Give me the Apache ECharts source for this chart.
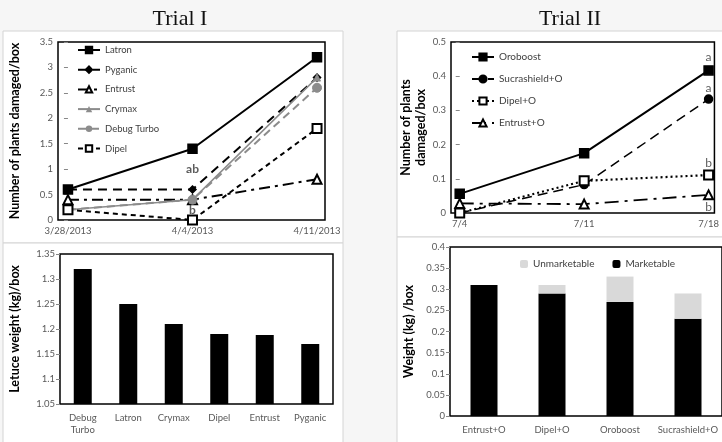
<!DOCTYPE html>
<html>
<head>
<meta charset="utf-8">
<script src="https://cdn.jsdelivr.net/npm/echarts@6/dist/echarts.min.js"></script>
<style>
html,body{margin:0;padding:0;background:#f6f6f6;}
#chart{width:722px;height:442px;}
</style>
</head>
<body>
<div id="chart"></div>
<script>
// ---- Trial I: damage over time ----
const trial1Dates = ['3/28/2013', '4/4/2013', '4/11/2013'];
const latron = [0.6, 1.4, 3.2];
const pyganic = [0.6, 0.6, 2.8];
const entrust = [0.4, 0.4, 0.8];
const crymax = [0.2, 0.4, 2.8];
const debugTurbo = [0.2, 0.4, 2.6];
const dipel = [0.2, 0.0, 1.8];
const trial1Letters = ['ab', 'b'];
const trial1LetterX = [1, 1];
const trial1LetterY = [1.0, 0.2];

// ---- Trial I: lettuce weight ----
const trial1Treatments = ['Debug Turbo', 'Latron', 'Crymax', 'Dipel', 'Entrust', 'Pyganic'];
const lettuceWeight = [1.32, 1.25, 1.21, 1.19, 1.188, 1.17];

// ---- Trial II: damage over time ----
const trial2Dates = ['7/4', '7/11', '7/18'];
const oroboost = [0.056, 0.175, 0.417];
const sucrashield = [0.0, 0.083, 0.333];
const dipelO = [0.0, 0.094, 0.111];
const entrustO = [0.028, 0.026, 0.053];
const trial2Letters = ['a', 'a', 'b', 'b'];
const trial2LetterX = [2, 2, 2, 2];
const trial2LetterY = [0.455, 0.365, 0.146, 0.018];

// ---- Trial II: weight ----
const trial2Treatments = ['Entrust+O', 'Dipel+O', 'Oroboost', 'Sucrashield+O'];
const marketable = [0.31, 0.29, 0.27, 0.23];
const unmarketable = [0.0, 0.02, 0.06, 0.06];

const FONT = 'Lato, "Noto Sans", sans-serif';
const LBL = '#595959';
const pts = arr => arr.map((v, i) => [i, v]);

function lineSeries(name, data, grid, opt) {
  return Object.assign({
    name: name, type: 'line', xAxisIndex: grid, yAxisIndex: grid,
    data: pts(data), symbolSize: 8, z: 3,
    lineStyle: { color: '#000', width: 2, type: 'solid' },
    itemStyle: { color: '#000', borderColor: '#000', borderWidth: 1.5 }
  }, opt);
}

const chart = echarts.init(document.getElementById('chart'), null, { renderer: 'canvas' });

const valueYAxis = (grid, min, max, interval, name, nameGap) => ({
  gridIndex: grid, type: 'value', min: min, max: max, interval: interval,
  name: name, nameLocation: 'middle', nameGap: nameGap, nameRotate: 90,
  nameTextStyle: { fontFamily: FONT, fontWeight: 'bold', fontSize: 12.5, color: '#000', lineHeight: 15 },
  axisLine: { show: false },
  axisTick: { show: true, length: 4, inside: false, lineStyle: { color: '#888' } },
  splitLine: { show: false },
  axisLabel: { fontFamily: FONT, fontSize: 9.5, color: LBL, margin: 5 }
});

const gridStyle = { show: true, borderColor: '#000', borderWidth: 1.5, backgroundColor: '#fff' };

chart.setOption({
  backgroundColor: '#f6f6f6',
  animation: false,
  graphic: [
    { type: 'rect', z: -10, shape: { x: 3, y: 31, width: 340, height: 212 }, style: { fill: '#fff', stroke: '#d4d4d4', lineWidth: 1 } },
    { type: 'rect', z: -10, shape: { x: 3, y: 243, width: 340, height: 210 }, style: { fill: '#fff', stroke: '#d4d4d4', lineWidth: 1 } },
    { type: 'rect', z: -10, shape: { x: 397, y: 31, width: 340, height: 206 }, style: { fill: '#fff', stroke: '#d4d4d4', lineWidth: 1 } },
    { type: 'rect', z: -10, shape: { x: 397, y: 237, width: 340, height: 215 }, style: { fill: '#fff', stroke: '#d4d4d4', lineWidth: 1 } }
  ],
  title: [
    { text: 'Trial I', left: 175, top: 3, textAlign: 'center',
      textStyle: { fontFamily: '"Liberation Serif", serif', fontSize: 22, fontWeight: 'normal', color: '#111' } },
    { text: 'Trial II', left: 565, top: 3, textAlign: 'center',
      textStyle: { fontFamily: '"Liberation Serif", serif', fontSize: 22, fontWeight: 'normal', color: '#111' } }
  ],
  legend: [
    { orient: 'vertical', left: 72, top: 39, itemWidth: 22, itemHeight: 8, itemGap: 7.7,
      data: ['Latron', 'Pyganic', 'Entrust', 'Crymax', 'Debug Turbo', 'Dipel'],
      textStyle: { fontFamily: FONT, fontSize: 9.5, color: '#404040', lineHeight: 12 } },
    { orient: 'vertical', left: 466, top: 46, itemWidth: 22, itemHeight: 9, itemGap: 10,
      data: ['Oroboost', 'Sucrashield+O', 'Dipel+O', 'Entrust+O'],
      textStyle: { fontFamily: FONT, fontSize: 10, color: '#404040', lineHeight: 12 } },
    { orient: 'horizontal', left: 515, top: 254, itemWidth: 8, itemHeight: 8, itemGap: 18,
      data: ['Unmarketable', 'Marketable'],
      textStyle: { fontFamily: FONT, fontSize: 10, color: '#404040' } }
  ],
  grid: [
    Object.assign({ left: 58, top: 42, width: 267, height: 178 }, gridStyle),
    Object.assign({ left: 60, top: 254, width: 273, height: 150 }, gridStyle),
    Object.assign({ left: 451, top: 42, width: 269, height: 171 }, gridStyle),
    Object.assign({ left: 450, top: 247, width: 272, height: 169 }, gridStyle)
  ],
  xAxis: [
    { gridIndex: 0, type: 'value', min: -0.08, max: 2.064,
      axisLine: { show: false }, axisTick: { show: false }, splitLine: { show: false },
      axisLabel: { customValues: [0, 1, 2], formatter: v => trial1Dates[Math.round(v)],
        fontFamily: FONT, fontSize: 9.5, color: LBL, margin: 6 } },
    { gridIndex: 1, type: 'category', data: trial1Treatments,
      axisLine: { show: false }, axisTick: { show: false },
      axisLabel: { interval: 0, formatter: v => v.replace(' ', '\n'), fontFamily: FONT, fontSize: 9.5, color: LBL, margin: 8, lineHeight: 12 } },
    { gridIndex: 2, type: 'value', min: -0.07, max: 2.047,
      axisLine: { show: false }, axisTick: { show: false }, splitLine: { show: false },
      axisLabel: { customValues: [0, 1, 2], formatter: v => trial2Dates[Math.round(v)],
        fontFamily: FONT, fontSize: 9.5, color: LBL, margin: 6 } },
    { gridIndex: 3, type: 'category', data: trial2Treatments,
      axisLine: { show: false }, axisTick: { show: false },
      axisLabel: { interval: 0, fontFamily: FONT, fontSize: 9.5, color: LBL, margin: 9 } }
  ],
  yAxis: [
    valueYAxis(0, 0, 3.5, 0.5, 'Number of plants damaged/box', 36),
    valueYAxis(1, 1.05, 1.35, 0.05, 'Letuce weight (kg)/box', 38),
    valueYAxis(2, 0, 0.5, 0.1, 'Number of plants\ndamaged/box', 21),
    valueYAxis(3, 0, 0.4, 0.05, 'Weight (kg) /box', 34)
  ],
  series: [
    lineSeries('Latron', latron, 0, { symbol: 'rect', symbolSize: 9 }),
    lineSeries('Pyganic', pyganic, 0, { symbol: 'diamond', symbolSize: 7,
      lineStyle: { color: '#000', width: 2, type: [9, 6] } }),
    lineSeries('Entrust', entrust, 0, { symbol: 'emptyTriangle', symbolSize: 9,
      lineStyle: { color: '#000', width: 2, type: [11, 5, 3, 5] } }),
    lineSeries('Crymax', crymax, 0, { symbol: 'triangle', symbolSize: 7,
      lineStyle: { color: '#8c8c8c', width: 1.5, type: 'solid' },
      itemStyle: { color: '#8c8c8c', borderColor: '#8c8c8c' } }),
    lineSeries('Debug Turbo', debugTurbo, 0, { symbol: 'circle', symbolSize: 9,
      lineStyle: { color: '#8c8c8c', width: 2, type: [8, 5] },
      itemStyle: { color: '#8c8c8c', borderColor: '#8c8c8c' } }),
    lineSeries('Dipel', dipel, 0, { symbol: 'emptyRect', symbolSize: 9,
      lineStyle: { color: '#000', width: 2, type: [5, 4] } }),
    { type: 'scatter', xAxisIndex: 0, yAxisIndex: 0, symbolSize: 0, z: 5,
      data: trial1Letters.map((t, i) => [trial1LetterX[i], trial1LetterY[i], t]),
      label: { show: true, position: 'inside', formatter: p => p.data[2],
        fontFamily: FONT, fontSize: 12, fontWeight: 'bold', color: '#333' } },

    { name: 'Lettuce', type: 'bar', xAxisIndex: 1, yAxisIndex: 1, data: lettuceWeight,
      barWidth: 18, itemStyle: { color: '#000' } },

    lineSeries('Oroboost', oroboost, 2, { symbol: 'rect', symbolSize: 9 }),
    lineSeries('Sucrashield+O', sucrashield, 2, { symbol: 'circle', symbolSize: 8,
      lineStyle: { color: '#000', width: 1.5, type: [10, 6] } }),
    lineSeries('Dipel+O', dipelO, 2, { symbol: 'emptyRect', symbolSize: 9,
      lineStyle: { color: '#000', width: 2.2, type: [2, 3] } }),
    lineSeries('Entrust+O', entrustO, 2, { symbol: 'emptyTriangle', symbolSize: 9,
      lineStyle: { color: '#000', width: 1.8, type: [14, 6, 3, 6] } }),
    { type: 'scatter', xAxisIndex: 2, yAxisIndex: 2, symbolSize: 0, z: 5,
      data: trial2Letters.map((t, i) => [trial2LetterX[i], trial2LetterY[i], t]),
      label: { show: true, position: 'inside', formatter: p => p.data[2],
        fontFamily: FONT, fontSize: 12, color: '#333' } },

    { name: 'Marketable', type: 'bar', stack: 'w', xAxisIndex: 3, yAxisIndex: 3,
      data: marketable, barWidth: 27, itemStyle: { color: '#000' } },
    { name: 'Unmarketable', type: 'bar', stack: 'w', xAxisIndex: 3, yAxisIndex: 3,
      data: unmarketable, barWidth: 27, itemStyle: { color: '#d9d9d9' } }
  ]
});
</script>
</body>
</html>
